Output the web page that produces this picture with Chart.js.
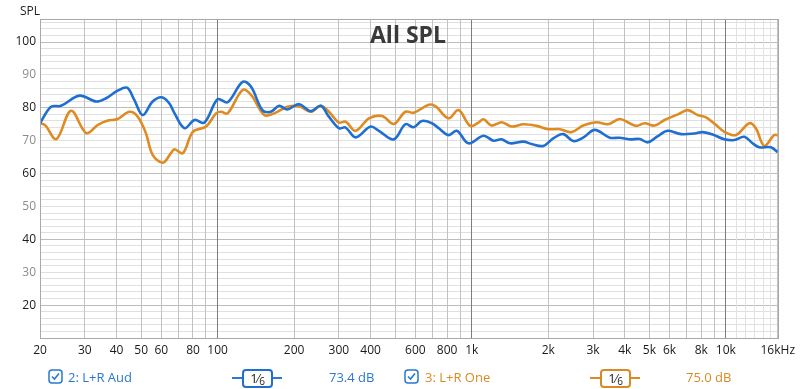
<!DOCTYPE html>
<html>
<head>
<meta charset="utf-8">
<script src="https://cdn.jsdelivr.net/npm/chart.js@4.4.1/dist/chart.umd.min.js"></script>
<style>
  html, body { margin: 0; padding: 0; background: #fff; }
  #wrap { position: relative; width: 800px; height: 389px; font-family: 'Open Sans', sans-serif; }
  #wrap canvas { position: absolute; left: 0; top: 0; }
  .abs { position: absolute; white-space: nowrap; }
  .lbl { font-size: 13px; }
  .blue { color: #2a78d2; }
  .orange { color: #d98a25; }
  .smooth { position: absolute; height: 15px; border: 2px solid; border-radius: 4px; background: #fff;
            font-size: 13px; line-height: 15px; text-align: center; color: #222; }
  .line { position: absolute; height: 2px; }
</style>
</head>
<body>
<div id="wrap">
  <canvas id="c" width="800" height="389"></canvas>
  <div class="abs" style="left:20px;top:2px;font-size:12px;color:#222;">SPL</div>
  <div class="abs" style="left:0;width:816px;top:18px;text-align:center;font-size:23px;font-weight:bold;color:#3a3a3a;">All SPL</div>

  <!-- legend row -->
  <svg class="abs" style="left:48px;top:369px" width="15" height="15" viewBox="0 0 15 15">
    <rect x="1" y="1" width="13" height="13" rx="3" fill="#fff" stroke="#2a78d2" stroke-width="1.5"/>
    <path d="M4 7.5 L6.5 10 L11 4.5" fill="none" stroke="#2a78d2" stroke-width="1.6"/>
  </svg>
  <div class="abs lbl blue" style="left:68px;top:368px;">2: L+R Aud</div>
  <div class="line" style="left:232px;width:50px;top:377px;background:#2a78d2;"></div>
  <div class="smooth" style="left:242px;width:27px;top:369px;border-color:#1f6fcf;">1<span style="font-size:12px">⁄</span><span style="font-size:10px;position:relative;top:2px">6</span></div>
  <div class="abs lbl blue" style="left:329px;top:368px;">73.4 dB</div>

  <svg class="abs" style="left:404px;top:369px" width="15" height="15" viewBox="0 0 15 15">
    <rect x="1" y="1" width="13" height="13" rx="3" fill="#fff" stroke="#2a78d2" stroke-width="1.5"/>
    <path d="M4 7.5 L6.5 10 L11 4.5" fill="none" stroke="#2a78d2" stroke-width="1.6"/>
  </svg>
  <div class="abs lbl orange" style="left:425px;top:368px;">3: L+R One</div>
  <div class="line" style="left:590px;width:50px;top:377px;background:#d98a25;"></div>
  <div class="smooth" style="left:600px;width:27px;top:369px;border-color:#d98a25;">1<span style="font-size:12px">⁄</span><span style="font-size:10px;position:relative;top:2px">6</span></div>
  <div class="abs lbl orange" style="left:686px;top:368px;">75.0 dB</div>
</div>
<script>
// ---- data ----
const audFreq = [20, 22.1, 24.2, 28.6, 33.3, 36.4, 40.4, 44.0, 47.0, 50.7, 55.5, 60.2, 64.5, 67.7, 74.1, 81.1, 88.7,
  100, 109.5, 125.4, 135.4, 150, 162, 174.6, 188, 209, 232.6, 254.6, 274, 300, 319, 349, 400, 431, 493, 548, 591,
  637, 697, 741, 811, 874, 971, 1112, 1217, 1312, 1415, 1596, 1720, 1912, 2092, 2290, 2507, 2744, 3048, 3492,
  3820, 4183, 4578, 4932, 5400, 5910, 6666, 7523, 8108, 8872, 9864, 10796, 11816, 12736, 13528, 15020, 16000];
const audSpl = [75.3, 80.3, 80.6, 83.7, 81.9, 82.9, 85.2, 86.1, 82.4, 77.8, 81.9, 83.2, 81.4, 78.3, 73.8, 76.3, 75.5,
  82.6, 81.7, 87.9, 86.4, 79.3, 78.8, 80.6, 79.5, 81.1, 79.0, 80.6, 77.3, 73.8, 74.0, 71.0, 74.3, 73.0, 70.4, 75.0, 74.1,
  76.0, 75.3, 73.8, 71.7, 73.0, 69.2, 71.5, 70.0, 70.4, 69.2, 69.7, 69.0, 68.4, 70.7, 72.0, 69.9, 70.9, 73.3, 70.9,
  70.9, 70.4, 70.5, 69.5, 71.4, 73.0, 72.0, 72.2, 72.6, 71.9, 70.4, 70.2, 71.2, 69.2, 68.0, 68.0, 66.5];

const oneFreq = [20, 20.9, 23.2, 26.5, 30.4, 33.8, 37.0, 40.4, 45.0, 48.5, 52.2, 55.5, 60.9, 65.5, 67.7, 73.0, 79.9,
  90.1, 98.6, 103.2, 109.5, 125.4, 135.4, 152.6, 167, 188, 209, 232.6, 254.6, 274, 300, 319, 349, 394, 444, 493,
  548, 591, 677, 719, 811, 887, 986, 1063, 1112, 1198, 1312, 1436, 1596, 1799, 2000, 2222, 2468, 2744, 3094, 3439,
  3820, 4183, 4441, 4788, 5241, 5738, 6470, 7080, 7746, 8354, 9142, 9864, 10952, 12360, 13120, 14154, 15490, 16000];
const oneSpl = [75.3, 74.8, 70.5, 79.1, 72.3, 74.8, 76.1, 76.6, 78.8, 77.3, 72.3, 65.7, 63.3, 66.2, 67.4, 66.2, 72.7,
  74.3, 78.3, 78.8, 78.3, 85.4, 83.9, 77.8, 78.3, 80.3, 80.5, 78.8, 80.6, 78.8, 75.5, 75.8, 73.0, 76.8, 77.5, 75.1,
  78.8, 78.5, 80.9, 80.5, 76.8, 79.3, 74.5, 75.5, 76.5, 74.6, 75.6, 74.3, 75.0, 74.5, 73.5, 73.5, 72.6, 74.6, 75.6, 75.0,
  76.6, 75.3, 74.5, 75.3, 74.6, 76.3, 78.0, 79.3, 77.8, 77.1, 74.8, 72.7, 71.7, 75.3, 73.8, 68.4, 71.7, 71.7];

// ---- axes ----
const xGridFreqs = [20, 30, 40, 50, 60, 70, 80, 90, 100, 200, 300, 400, 500, 600, 700, 800, 900, 1000,
  2000, 3000, 4000, 5000, 6000, 7000, 8000, 9000, 10000, 11000, 12000, 13000, 14000, 15000, 16000];
const xLabelFreqs = [20, 30, 40, 50, 60, 80, 100, 200, 300, 400, 600, 800, 1000, 2000, 3000, 4000, 5000, 6000, 8000, 10000, 16000];
const xLabelText = ['20', '30', '40', '50', '60', '80', '100', '200', '300', '400', '600', '800', '1k', '2k', '3k', '4k', '5k', '6k', '8k', '10k', '16kHz'];
const yGridValues = [10, 12, 14, 16, 18, 20, 22, 24, 26, 28, 30, 32, 34, 36, 38, 40, 42, 44, 46, 48, 50, 52, 54, 56, 58,
  60, 62, 64, 66, 68, 70, 72, 74, 76, 78, 80, 82, 84, 86, 88, 90, 92, 94, 96, 98, 100, 102, 104, 106];
const yLabelValues = [20, 30, 40, 50, 60, 70, 80, 90, 100];

const BLUE = '#1f6fd0';
const ORANGE = '#dd8b22';

Chart.defaults.font.family = "'Open Sans', sans-serif";

function xGridColor(v) {
  if (v === 100 || v === 1000 || v === 10000) return '#7c7c7c';
  if (v > 10000 && v < 16000) return '#e2e2e2';
  return '#c2c2c2';
}

// vertical grid lines drawn over the horizontal ones (as in the reference), plus plot frame
const frame = {
  id: 'frame',
  beforeDatasetsDraw(chart) {
    const a = chart.chartArea, ctx = chart.ctx, xs = chart.scales.x;
    ctx.save();
    ctx.lineWidth = 1;
    xGridFreqs.forEach(v => {
      const px = Math.round(xs.getPixelForValue(v) - 0.5) + 0.5;
      ctx.strokeStyle = xGridColor(v);
      ctx.beginPath();
      ctx.moveTo(px, a.top);
      ctx.lineTo(px, a.bottom);
      ctx.stroke();
    });
    ctx.restore();
  },
  afterDraw(chart) {
    const a = chart.chartArea, ctx = chart.ctx;
    ctx.save();
    ctx.strokeStyle = '#a8a8a8';
    ctx.lineWidth = 1;
    ctx.strokeRect(Math.round(a.left) + 0.5, Math.round(a.top) + 0.5, Math.round(a.right - a.left), Math.round(a.bottom - a.top));
    ctx.restore();
  }
};

new Chart(document.getElementById('c'), {
  type: 'line',
  data: {
    datasets: [
      { label: '2: L+R Aud', data: audFreq.map((f, i) => ({ x: f, y: audSpl[i] })), borderColor: BLUE,
        borderWidth: 2.6, pointRadius: 0, tension: 0.35, fill: false },
      { label: '3: L+R One', data: oneFreq.map((f, i) => ({ x: f, y: oneSpl[i] })), borderColor: ORANGE,
        borderWidth: 2.6, pointRadius: 0, tension: 0.35, fill: false }
    ]
  },
  options: {
    responsive: false,
    animation: false,
    layout: { padding: { top: 19, right: 20, bottom: 27, left: 0 } },
    plugins: { legend: { display: false }, tooltip: { enabled: false }, title: { display: false } },
    scales: {
      x: {
        type: 'logarithmic', min: 20, max: 16000,
        afterBuildTicks: s => { s.ticks = xGridFreqs.map(v => ({ value: v })); },
        afterFit: s => { s.height = 24; },
        ticks: {
          autoSkip: false, maxRotation: 0, minRotation: 0, padding: 5,
          color: '#1a1a1a', font: { size: 12 },
          callback: v => { const k = xLabelFreqs.indexOf(v); return k >= 0 ? xLabelText[k] : ''; }
        },
        grid: { display: false, drawTicks: false },
        border: { display: true, color: '#a8a8a8' }
      },
      y: {
        type: 'linear', min: 10, max: 107,
        afterBuildTicks: s => { s.ticks = yGridValues.map(v => ({ value: v })); },
        afterFit: s => { s.width = 40; },
        ticks: {
          autoSkip: false, padding: 4, font: { size: 12 },
          color: c => (c.tick.value % 20 === 0 ? '#1a1a1a' : '#8c8c8c'),
          callback: v => (yLabelValues.indexOf(v) >= 0 ? String(v) : '')
        },
        grid: {
          drawTicks: false,
          color: c => (c.tick && c.tick.value % 20 === 0 ? '#bcbcbc' : '#e0e0e0')
        },
        border: { display: true, color: '#a8a8a8' }
      }
    }
  },
  plugins: [frame]
});
</script>
</body>
</html>
